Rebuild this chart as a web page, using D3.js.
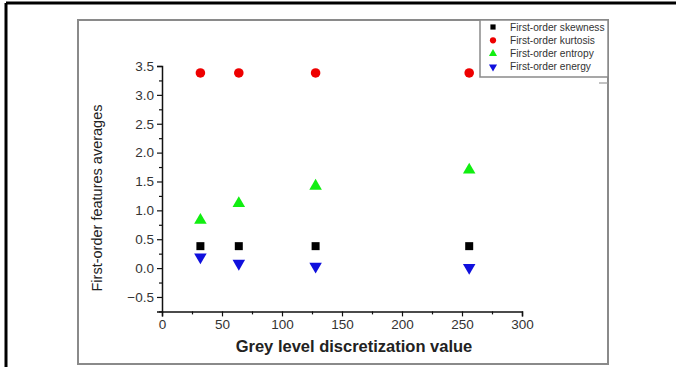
<!DOCTYPE html>
<html><head><meta charset="utf-8">
<script src="https://cdn.jsdelivr.net/npm/d3@7"></script>
<style>body{margin:0;background:#fff}svg{display:block}</style>
</head><body>
<svg id="c" width="676" height="367"></svg>
<script>
const xValues = [32, 64, 128, 256];
const skewness = [0.38, 0.38, 0.38, 0.38];
const kurtosis = [3.38, 3.38, 3.38, 3.38];
const entropy = [0.83, 1.12, 1.42, 1.70];
const energy = [0.19, 0.08, 0.03, 0.01];
const seriesNames = ["First-order skewness", "First-order kurtosis", "First-order entropy", "First-order energy"];
const xTicks = [0, 50, 100, 150, 200, 250, 300];
const yTicks = [-0.5, 0.0, 0.5, 1.0, 1.5, 2.0, 2.5, 3.0, 3.5];

const svg = d3.select("#c");
const font = "Arial, 'Liberation Sans', sans-serif";

// outer frames
svg.append("line").attr("x1",6).attr("y1",3).attr("x2",676).attr("y2",3).attr("stroke","#000").attr("stroke-width",3);
svg.append("line").attr("x1",6).attr("y1",3).attr("x2",6).attr("y2",367).attr("stroke","#000").attr("stroke-width",3);
svg.append("rect").attr("x",78).attr("y",20).attr("width",530).attr("height",344)
  .attr("fill","none").attr("stroke","#8a8a8a").attr("stroke-width",2);

const x = d3.scaleLinear().domain([0,300]).range([162,522]);
const y = d3.scaleLinear().domain([-0.75,3.5]).range([311.4,66]);

// minor ticks
const gx = svg.append("g").attr("transform","translate(0,311.4)");
gx.call(d3.axisBottom(x).tickValues(d3.range(25,300,50)).tickSize(3).tickFormat(""));
const gx2 = svg.append("g").attr("transform","translate(0,311.4)");
gx2.call(d3.axisBottom(x).tickValues(xTicks).tickSize(5).tickPadding(3).tickFormat(d3.format("d")));
const gy = svg.append("g").attr("transform","translate(162,0)");
gy.call(d3.axisLeft(y).tickValues(d3.range(-0.75,3.5,0.5)).tickSize(3).tickFormat(""));
const gy2 = svg.append("g").attr("transform","translate(162,0)");
gy2.call(d3.axisLeft(y).tickValues(yTicks).tickSize(5).tickPadding(3).tickFormat(d3.format(".1f")));
[gx,gx2,gy,gy2].forEach(g=>{
  g.selectAll("path").attr("stroke","#111").attr("stroke-width",1.5);
  g.selectAll("line").attr("stroke","#111").attr("stroke-width",1.2);
  g.selectAll("text").attr("fill","#333").style("font-family",font).style("font-size","13.5px");
});
gy.select("path").remove(); gx.select("path").remove();

// titles
svg.append("text").attr("x",354).attr("y",352).attr("text-anchor","middle")
  .style("font-family",font).style("font-size","16.5px").style("font-weight","bold").attr("fill","#222")
  .text("Grey level discretization value");
svg.append("text").attr("transform","translate(102,198) rotate(-90)").attr("text-anchor","middle")
  .style("font-family",font).style("font-size","14.5px").attr("fill","#222")
  .text("First-order features averages");

const series = [
  {vals: skewness, sym: d3.symbolSquare, size: 64, color: "#000", rot:0},
  {vals: kurtosis, sym: d3.symbolCircle, size: 72, color: "#ee0000", rot:0},
  {vals: entropy, sym: d3.symbolTriangle, size: 68, color: "#11ee11", rot:0},
  {vals: energy, sym: d3.symbolTriangle, size: 68, color: "#1010dd", rot:180}
];
series.forEach(s=>{
  svg.append("g").selectAll("path").data(xValues.map((xv,i)=>[xv,s.vals[i]])).join("path")
    .attr("d", d3.symbol(s.sym, s.size))
    .attr("transform", d=>`translate(${x(d[0])},${y(d[1])}) rotate(${s.rot})`)
    .attr("fill", s.color);
});

// legend
const lg = svg.append("g");
lg.append("rect").attr("x",480).attr("y",20).attr("width",128).attr("height",57)
  .attr("fill","#fff").attr("stroke","#8a8a8a").attr("stroke-width",1.5);
seriesNames.forEach((n,i)=>{
  const yy = 27 + i*13.3;
  const s = series[i];
  lg.append("path").attr("d", d3.symbol(s.sym, s.size*0.42))
    .attr("transform",`translate(493,${yy}) rotate(${s.rot})`).attr("fill", s.color);
  lg.append("text").attr("x",510).attr("y",yy+3.5).text(n)
    .style("font-family",font).style("font-size","10.2px").attr("fill","#333");
});
svg.append("line").attr("x1",599).attr("y1",83).attr("x2",608).attr("y2",83).attr("stroke","#999").attr("stroke-width",1.2);
</script>
</body></html>
